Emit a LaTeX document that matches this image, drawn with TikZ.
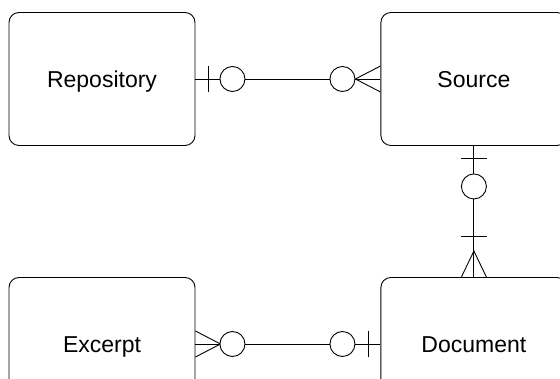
\documentclass[tikz,border=0pt]{standalone}
\usepackage{fontspec}
\setmainfont{Liberation Sans}
\usetikzlibrary{positioning,calc}

\tikzset{entity/.style={draw, rounded corners=10pt, minimum width=186pt, minimum height=133pt,
  text height=17pt, text depth=0pt, font=\fontsize{23}{27}\selectfont},
  ring/.style={draw, fill=white}}

\begin{document}
\begin{tikzpicture}[x=1pt,y=-1pt,line width=0.9pt]
\useasboundingbox (0,0) rectangle (560,379);
\clip (0,0) rectangle (560,379);

\node[entity] (repo) at (102,79) {Repository};
\node[entity, right=185pt of repo] (src) {Source};
\node[entity] (exc) at (102,344) {Excerpt};
\node[entity, right=185pt of exc] (doc) {Document};

% repository -- source
\draw (repo) -- (src);
\draw ($(repo.east)+(13,-13)$) -- ($(repo.east)+(13,13)$);
\draw[ring] ($(repo.east)+(37,0)$) circle (12.5);
\draw[ring] ($(src.west)+(-38,0)$) circle (12.5);
\draw ($(src.west)+(0,-13)$) -- ($(src.west)+(-25,0)$) -- ($(src.west)+(0,13)$);

% source -- document
\draw (src) -- (doc);
\draw ($(src.south)+(-13,13)$) -- ($(src.south)+(13,13)$);
\draw[ring] ($(src.south)+(0,40.5)$) circle (12.5);
\draw ($(doc.north)+(-13,-41)$) -- ($(doc.north)+(13,-41)$);
\draw ($(doc.north)+(-12.5,0)$) -- ($(doc.north)+(0,-26)$) -- ($(doc.north)+(12.5,0)$);

% excerpt -- document
\draw (exc) -- (doc);
\draw ($(exc.east)+(0,-13)$) -- ($(exc.east)+(25,0)$) -- ($(exc.east)+(0,13)$);
\draw[ring] ($(exc.east)+(37,0)$) circle (12.5);
\draw[ring] ($(doc.west)+(-38,0)$) circle (12.5);
\draw ($(doc.west)+(-12,-13)$) -- ($(doc.west)+(-12,13)$);

\end{tikzpicture}
\end{document}
